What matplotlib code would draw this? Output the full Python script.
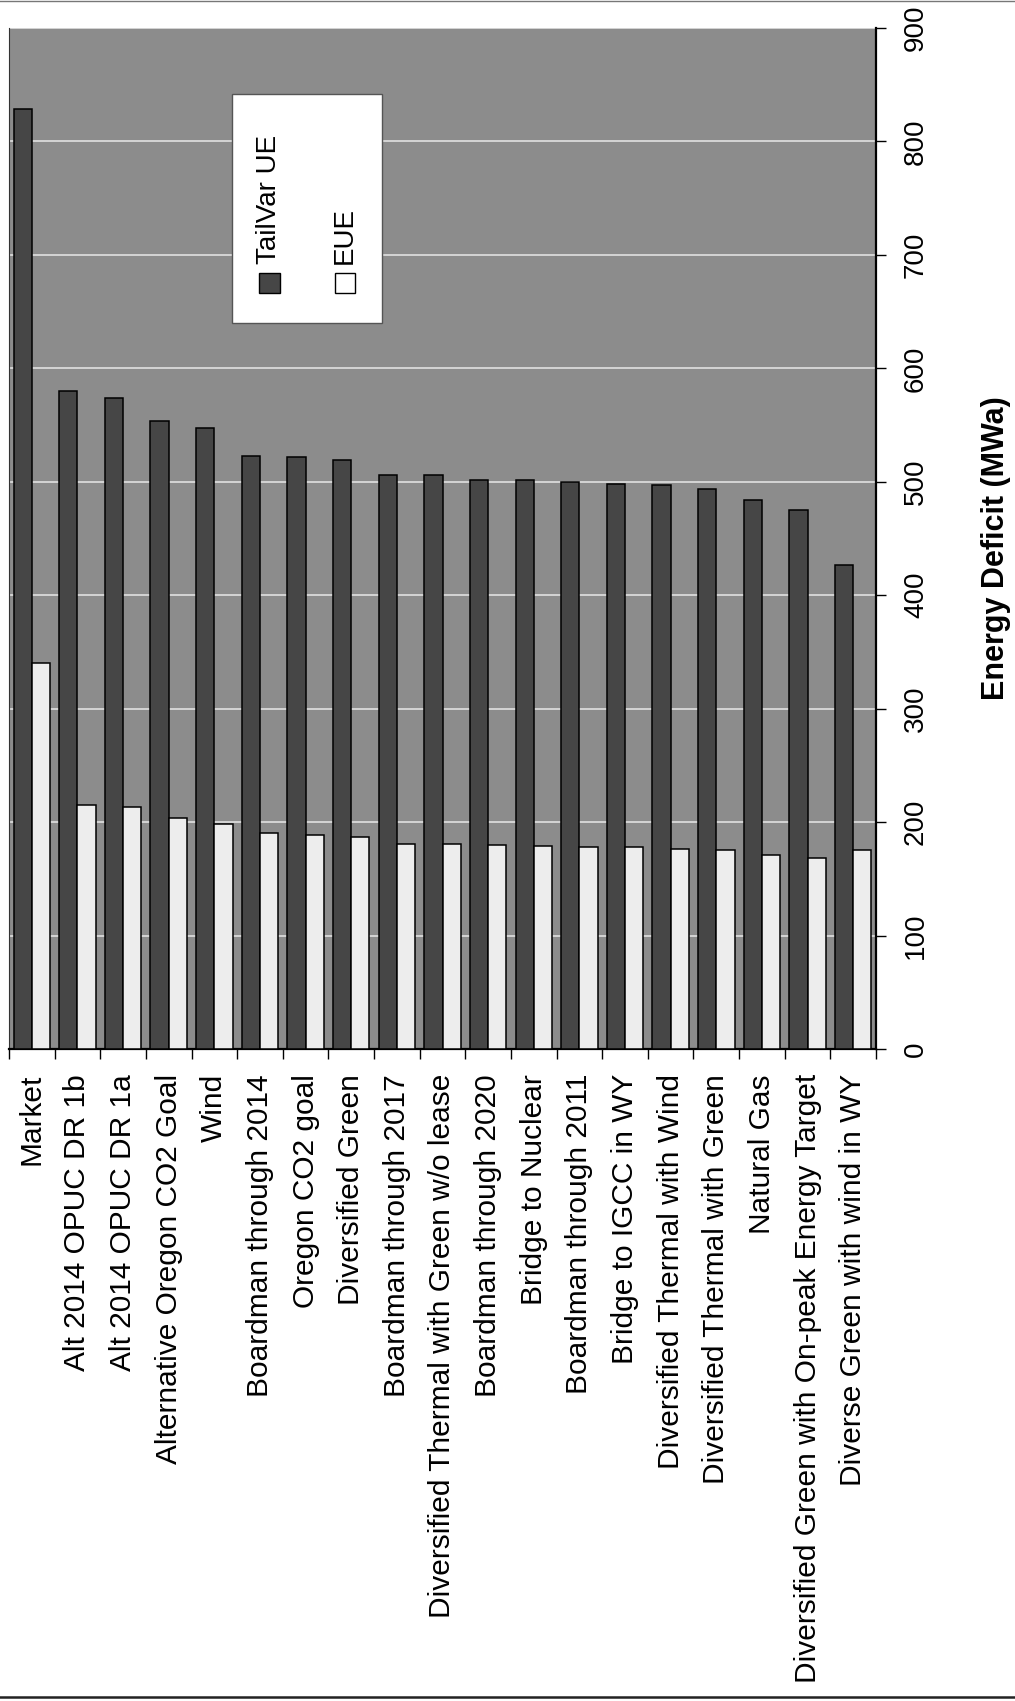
import numpy as np
import matplotlib.pyplot as plt
from matplotlib.patches import Rectangle
from matplotlib.lines import Line2D

plt.rcParams['font.family'] = ['Liberation Sans', 'DejaVu Sans']

# portfolios, in the order they are plotted
portfolios = [
    'Market',
    'Alt 2014 OPUC DR 1b',
    'Alt 2014 OPUC DR 1a',
    'Alternative Oregon CO2 Goal',
    'Wind',
    'Boardman through 2014',
    'Oregon CO2 goal',
    'Diversified Green',
    'Boardman through 2017',
    'Diversified Thermal with Green w/o lease',
    'Boardman through 2020',
    'Bridge to Nuclear',
    'Boardman through 2011',
    'Bridge to IGCC in WY',
    'Diversified Thermal with Wind',
    'Diversified Thermal with Green',
    'Natural Gas',
    'Diversified Green with On-peak Energy Target',
    'Diverse Green with wind in WY',
]
tailvar_ue = [829, 580, 574, 554, 547, 523, 522, 519, 506, 506,
              502, 502, 500, 498, 497, 494, 484, 475, 427]
eue = [340, 215, 213, 204, 198, 190, 189, 187, 181, 181,
       180, 179, 178, 178, 176, 175, 171, 168, 175]
value_ticks = [0, 100, 200, 300, 400, 500, 600, 700, 800, 900]

W, H = 1015, 1701
fig = plt.figure(figsize=(W / 100, H / 100), dpi=100)


def fx(px):
    return px / W


def fy(py):
    return 1 - py / H


# plot area edges in pixels
left, right, top, bottom = 9, 876, 28, 1049
ax = fig.add_axes([fx(left), fy(bottom), (right - left) / W, (bottom - top) / H])
ax.set_facecolor('#8c8c8c')

x = np.arange(len(portfolios))
w = 0.4
ax.bar(x - w / 2, tailvar_ue, w, color='#464646', edgecolor='black', linewidth=1.1, zorder=3)
ax.bar(x + w / 2, eue, w, color='#ededed', edgecolor='black', linewidth=1.1, zorder=3)

ax.set_xlim(-0.5, len(portfolios) - 0.5)
ax.set_ylim(0, 900)

# value axis sits on the right, text turned on its side
ax.set_yticks(value_ticks)
ax.yaxis.tick_right()
ax.yaxis.set_label_position('right')
ax.grid(axis='y', color='#d4d4d4', linewidth=1.4, zorder=1)
ax.set_axisbelow(True)
ax.tick_params(axis='y', direction='out', length=7.5, width=1, labelsize=20, pad=12,
               labelrotation=90, colors='black')
plt.setp(ax.get_yticklabels(), va='center')

ax.set_ylabel('Energy Deficit (MWa)', fontsize=22, fontweight='bold')
ax.yaxis.set_label_coords((981 - left) / (right - left), (bottom - 548) / (bottom - top))

# category axis at the bottom
ax.set_xticks(x)
ax.set_xticklabels(portfolios, rotation=90, fontsize=21.5)
ax.tick_params(axis='x', which='major', length=0, pad=18)
ax.set_xticks(np.arange(len(portfolios) + 1) - 0.5, minor=True)
ax.tick_params(axis='x', which='minor', length=7.5, width=1, direction='out')

ax.spines['top'].set_visible(False)
ax.spines['left'].set_linewidth(0.8)
ax.spines['left'].set_color('#333333')
ax.spines['right'].set_linewidth(1.6)
ax.spines['bottom'].set_linewidth(1.6)

# legend box, drawn by hand so the entries can be turned
fig.add_artist(Rectangle((fx(232), fy(323)), 150 / W, 229 / H, transform=fig.transFigure,
                         facecolor='white', edgecolor='#555555', linewidth=1, zorder=5))
fig.add_artist(Rectangle((fx(259), fy(293)), 21 / W, 20 / H, transform=fig.transFigure,
                         facecolor='#464646', edgecolor='black', linewidth=1, zorder=6))
fig.add_artist(Rectangle((fx(335), fy(293)), 20 / W, 20 / H, transform=fig.transFigure,
                         facecolor='white', edgecolor='black', linewidth=1, zorder=6))
fig.text(fx(269), fy(264), 'TailVar UE', rotation=90, ha='center', va='bottom',
         fontsize=20, zorder=6)
fig.text(fx(345), fy(264), 'EUE', rotation=90, ha='center', va='bottom',
         fontsize=20, zorder=6)

# page rules above and below
fig.add_artist(Line2D([0, 1], [fy(1), fy(1)], transform=fig.transFigure,
                      color='#777777', linewidth=1))
fig.add_artist(Line2D([0, 1], [fy(1697), fy(1697)], transform=fig.transFigure,
                      color='#222222', linewidth=1.8))

fig.savefig('out.png', dpi=100)
